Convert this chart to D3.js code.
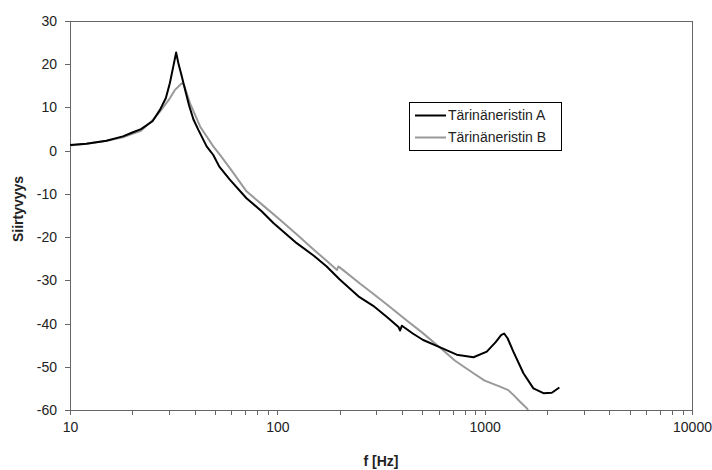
<!DOCTYPE html>
<html>
<head>
<meta charset="utf-8">
<script src="https://cdn.jsdelivr.net/npm/d3@7"></script>
<style>
  body { margin: 0; background: #fff; }
  svg text { font-family: Arial, "Liberation Sans", sans-serif; }
</style>
</head>
<body>
<div id="chart"></div>
<script>
// Tärinäneristin A (musta)
const freqA = [10, 12, 15, 18, 20, 22, 25, 27.2, 29, 30.3, 31.5, 32.5, 33.3, 34.6, 35.9, 37.5, 39.4, 41.6, 45.6, 49.1, 52.5, 59, 71, 84, 96, 124, 150, 173, 200, 246, 290, 340, 384, 391, 399, 450, 505, 610, 733, 883, 1024, 1130, 1200, 1241, 1290, 1375, 1538, 1718, 1920, 2108, 2293];
const valA = [1.3, 1.6, 2.3, 3.3, 4.2, 5.0, 6.8, 9.5, 12.2, 15.6, 19.5, 22.7, 20.3, 17.2, 14.1, 10.5, 7.2, 4.8, 1.0, -1.0, -3.7, -6.7, -11, -14, -16.8, -21.4, -24.3, -26.8, -29.8, -33.7, -35.9, -38.6, -40.8, -41.6, -40.5, -42.3, -43.8, -45.5, -47.2, -47.8, -46.5, -44.3, -42.7, -42.3, -43.4, -46.5, -51.5, -55, -56.1, -56, -54.8];

// Tärinäneristin B (harmaa)
const freqB = [10, 12, 15, 18, 20, 22, 25.2, 27.2, 30, 32, 34.6, 35.5, 37.9, 42.4, 49.1, 52.8, 60, 71, 85, 103, 125, 149, 175, 194, 197, 200, 251, 290, 340, 421, 500, 610, 720, 883, 1000, 1186, 1300, 1375, 1482, 1597, 1620];
const valB = [1.2, 1.6, 2.3, 3.1, 3.9, 4.6, 7.2, 9.1, 11.8, 14.0, 15.6, 15.2, 11.0, 5.6, 1.0, -0.9, -4.5, -9.4, -12.6, -16.0, -19.5, -22.8, -25.7, -27.6, -26.8, -27.0, -30.8, -33.1, -35.7, -39.3, -42.1, -45.6, -48.6, -51.5, -53.2, -54.6, -55.4, -56.5, -58.1, -59.6, -60];

const seriesNames = ["Tärinäneristin A", "Tärinäneristin B"];
const seriesColors = ["#000000", "#999999"];
const xMajor = [10, 100, 1000, 10000];
const yTicks = [-60, -50, -40, -30, -20, -10, 0, 10, 20, 30];

const width = 712, height = 470;
const margin = { left: 70, right: 20, top: 21, bottom: 60 };

const svg = d3.select("#chart").append("svg")
    .attr("width", width)
    .attr("height", height);

const x = d3.scaleLog().domain([10, 10000]).range([margin.left, width - margin.right]);
const y = d3.scaleLinear().domain([-60, 30]).range([height - margin.bottom, margin.top]);

// kaikki tikit 10..10000 (pienet ilman tekstiä)
const xAll = [];
for (let d = 10; d < 10000; d *= 10) {
    for (let k = 1; k < 10; k++) xAll.push(d * k);
}
xAll.push(10000);

svg.append("defs").append("clipPath").attr("id", "clip")
    .append("rect")
    .attr("x", x.range()[0]).attr("y", y.range()[1])
    .attr("width", x.range()[1] - x.range()[0])
    .attr("height", y.range()[0] - y.range()[1]);

// kehys
svg.append("rect")
    .attr("x", x.range()[0]).attr("y", y.range()[1])
    .attr("width", x.range()[1] - x.range()[0])
    .attr("height", y.range()[0] - y.range()[1])
    .attr("fill", "none")
    .attr("stroke", "#666")
    .attr("shape-rendering", "crispEdges");

const xAxis = svg.append("g")
    .attr("transform", `translate(0,${y.range()[0]})`)
    .call(d3.axisBottom(x)
        .tickValues(xAll)
        .tickSize(5)
        .tickPadding(10)
        .tickFormat(d => xMajor.includes(d) ? String(d) : ""));

const yAxis = svg.append("g")
    .attr("transform", `translate(${x.range()[0]},0)`)
    .call(d3.axisLeft(y).tickValues(yTicks).tickSize(5).tickPadding(8)
        .tickFormat(d => String(d)));   // tavallinen tavuviiva miinuksena

[xAxis, yAxis].forEach(a => {
    a.select(".domain").attr("stroke", "#666").attr("shape-rendering", "crispEdges");
    a.selectAll(".tick line").attr("stroke", "#666").attr("shape-rendering", "crispEdges");
    a.selectAll(".tick text").attr("fill", "#222").style("font-size", "14px");
});
xAxis.selectAll(".tick text").attr("dy", "0.5em");

const line = d3.line()
    .x(d => x(d[0]))
    .y(d => y(d[1]));

const data = [
    freqA.map((f, i) => [f, valA[i]]),
    freqB.map((f, i) => [f, valB[i]])
];

// harmaa ensin, musta päälle
[1, 0].forEach(i => {
    svg.append("path")
        .datum(data[i])
        .attr("clip-path", "url(#clip)")
        .attr("fill", "none")
        .attr("stroke", seriesColors[i])
        .attr("stroke-width", 2)
        .attr("stroke-linejoin", "round")
        .attr("d", line);
});

// akselien otsikot
svg.append("text")
    .attr("x", (x.range()[0] + x.range()[1]) / 2)
    .attr("y", 466)
    .attr("text-anchor", "middle")
    .style("font-size", "14px")
    .style("font-weight", "bold")
    .attr("fill", "#222")
    .text("f [Hz]");

svg.append("text")
    .attr("transform", "translate(23,209) rotate(-90)")
    .attr("text-anchor", "middle")
    .style("font-size", "14px")
    .style("font-weight", "bold")
    .attr("fill", "#222")
    .text("Siirtyvyys");

// selite
const legend = svg.append("g").attr("transform", "translate(409,102)");
legend.append("rect")
    .attr("x", 0.5).attr("y", 0.5)
    .attr("width", 152).attr("height", 48)
    .attr("fill", "#fff")
    .attr("stroke", "#000");

seriesNames.forEach((name, i) => {
    const row = legend.append("g").attr("transform", `translate(0,${13.5 + i * 22})`);
    row.append("line")
        .attr("x1", 6).attr("x2", 37)
        .attr("stroke", seriesColors[i])
        .attr("stroke-width", 2);
    row.append("text")
        .attr("x", 39)
        .attr("dy", "0.35em")
        .style("font-size", "14px")
        .attr("fill", "#222")
        .text(name);
});
</script>
</body>
</html>
